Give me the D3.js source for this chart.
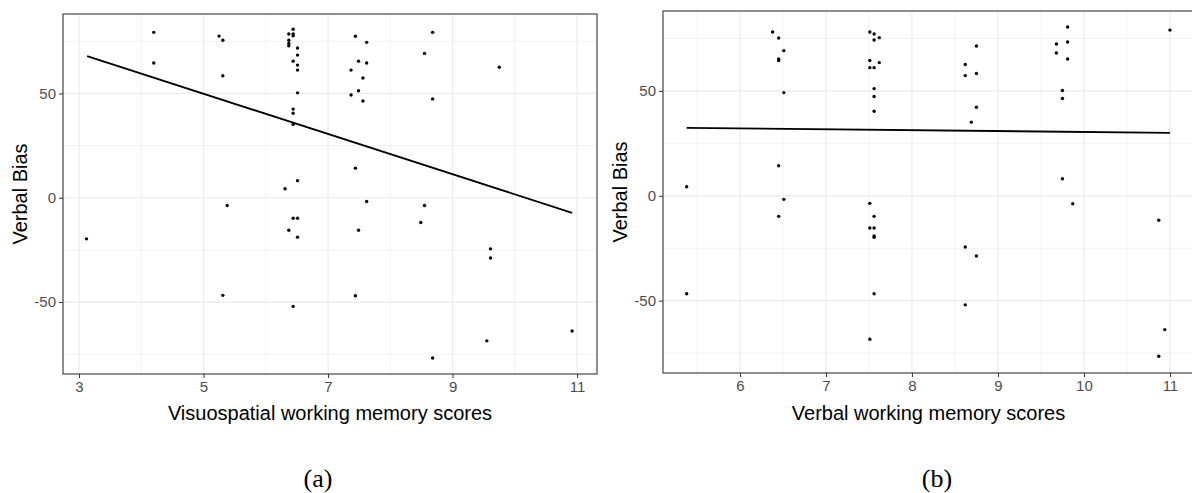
<!DOCTYPE html>
<html>
<head>
<meta charset="utf-8">
<title>Verbal Bias vs working memory</title>
<script src="https://d3js.org/d3.v7.min.js"></script>
<style>
  body { margin: 0; background: #fff; }
  svg { display: block; }
  .tick-label { font-family: "Liberation Sans", Arial, sans-serif; font-size: 15px; fill: #4d4d4d; }
  .axis-title { font-family: "Liberation Sans", Arial, sans-serif; font-size: 20px; fill: #000; }
  .caption { font-family: "Liberation Serif", "Times New Roman", serif; font-size: 26px; fill: #000; }
</style>
</head>
<body>
<div id="chart"></div>
<script>
// (a) visuospatial working memory vs verbal bias
var visuoX = [3.12, 4.2, 4.2, 5.25, 5.31, 5.31, 5.38, 5.31,
  6.37, 6.37, 6.37, 6.37, 6.44, 6.44, 6.44, 6.44, 6.51, 6.51, 6.51, 6.51, 6.51,
  6.44, 6.44, 6.44, 6.31, 6.51, 6.44, 6.51, 6.37, 6.51, 6.44,
  7.44, 7.62, 7.49, 7.62, 7.37, 7.56, 7.49, 7.37, 7.56, 7.44, 7.62, 7.49, 7.44,
  8.68, 8.55, 8.68, 8.55, 8.49, 8.68,
  9.75, 9.61, 9.61, 9.55, 10.92];
var visuoY = [-19.7, 79.3, 64.6, 77.5, 75.5, 58.5, -3.7, -46.8,
  78.5, 75.5, 74, 72.9, 80.8, 78.5, 77.7, 65.5, 71.8, 68.4, 63.6, 61.2, 50.3,
  42.5, 40.5, 35.2, 4.3, 8.2, -9.8, -9.8, -15.6, -18.9, -52.1,
  77.4, 74.5, 65.5, 64.6, 61.2, 57.4, 51.3, 49.3, 46.4, 14.2, -1.8, -15.6, -47,
  79.3, 69.2, 47.4, -3.7, -11.9, -76.8,
  62.6, -24.5, -28.9, -68.6, -63.9];
var visuoFitX = [3.13, 10.92];
var visuoFitY = [67.9, -7.2];
var visuoTicks = [3, 5, 7, 9, 11];
var visuoMinor = [4, 6, 8, 10];

// (b) verbal working memory vs verbal bias
var verbalX = [5.38, 5.38,
  6.38, 6.45, 6.51, 6.45, 6.45, 6.51, 6.45, 6.51, 6.45,
  7.51, 7.56, 7.56, 7.62, 7.51, 7.62, 7.51, 7.56, 7.56, 7.56, 7.56,
  7.51, 7.56, 7.51, 7.56, 7.56, 7.56, 7.56, 7.51,
  8.75, 8.62, 8.62, 8.75, 8.75, 8.69, 8.62, 8.75, 8.62,
  9.81, 9.68, 9.81, 9.68, 9.81, 9.75, 9.75, 9.75, 9.87,
  11.0, 10.87, 10.94, 10.87];
var verbalY = [4.3, -46.7,
  78.1, 75.2, 69.2, 65.2, 64.5, 49.2, 14.3, -1.7, -9.8,
  78.1, 77.1, 74.3, 75.4, 64.5, 63.5, 61.1, 61.1, 51.1, 47.3, 40.3,
  -3.6, -9.8, -15.4, -15.4, -19.2, -19.8, -46.7, -68.4,
  71.4, 62.6, 57.3, 58.3, 42.2, 35.1, -24.4, -28.7, -52,
  80.5, 72.4, 73.3, 68.1, 65.2, 50.2, 46.4, 8.1, -3.8,
  79, -11.7, -63.8, -76.5];
var verbalFitX = [5.38, 11.0];
var verbalFitY = [32.4, 30.0];
var verbalTicks = [6, 7, 8, 9, 10, 11];
var verbalMinor = [5.5, 6.5, 7.5, 8.5, 9.5, 10.5];

var biasTicks = [-50, 0, 50];
var biasMinor = [-75, -25, 25, 75];
var biasDomain = [-84.5, 88.1];

var W = 1192, H = 493;
var svg = d3.select("#chart").append("svg")
    .attr("width", W).attr("height", H);

// plain hyphen minus like the original, no decimals
var plain = function(d) { return String(d); };

function panel(p) {
  var x = d3.scaleLinear().domain(p.xDomain).range([p.left, p.right]);
  var y = d3.scaleLinear().domain(biasDomain).range([p.bottom, p.top]);
  var g = svg.append("g");

  // grid, minor first then major
  g.selectAll(".vminor").data(p.xMinor).enter().append("line")
    .attr("x1", d => x(d)).attr("x2", d => x(d))
    .attr("y1", p.top).attr("y2", p.bottom)
    .attr("stroke", "#f2f2f2").attr("stroke-width", 1);
  g.selectAll(".hminor").data(biasMinor).enter().append("line")
    .attr("x1", p.left).attr("x2", p.right)
    .attr("y1", d => y(d)).attr("y2", d => y(d))
    .attr("stroke", "#f2f2f2").attr("stroke-width", 1);
  g.selectAll(".vmajor").data(p.xTicks).enter().append("line")
    .attr("x1", d => x(d)).attr("x2", d => x(d))
    .attr("y1", p.top).attr("y2", p.bottom)
    .attr("stroke", "#ebebeb").attr("stroke-width", 1.2);
  g.selectAll(".hmajor").data(biasTicks).enter().append("line")
    .attr("x1", p.left).attr("x2", p.right)
    .attr("y1", d => y(d)).attr("y2", d => y(d))
    .attr("stroke", "#ebebeb").attr("stroke-width", 1.2);

  // points
  g.selectAll("circle").data(p.xs).enter().append("circle")
    .attr("cx", d => x(d))
    .attr("cy", (d, i) => y(p.ys[i]))
    .attr("r", 1.7)
    .attr("fill", "#000");

  // fitted line
  var fit = p.fitX.map((d, i) => [d, p.fitY[i]]);
  g.append("path")
    .attr("d", d3.line().x(d => x(d[0])).y(d => y(d[1]))(fit))
    .attr("fill", "none").attr("stroke", "#000").attr("stroke-width", 1.8);

  // border
  g.append("rect")
    .attr("x", p.left).attr("y", p.top)
    .attr("width", p.right - p.left).attr("height", p.bottom - p.top)
    .attr("fill", "none").attr("stroke", "#333").attr("stroke-width", 1.1);

  // axes
  var xAxis = g.append("g")
    .attr("transform", "translate(0," + p.bottom + ")")
    .call(d3.axisBottom(x).tickValues(p.xTicks).tickFormat(plain).tickSize(4).tickPadding(3));
  var yAxis = g.append("g")
    .attr("transform", "translate(" + p.left + ",0)")
    .call(d3.axisLeft(y).tickValues(biasTicks).tickFormat(plain).tickSize(4).tickPadding(3));
  [xAxis, yAxis].forEach(function(a) {
    a.select(".domain").remove();
    a.selectAll(".tick line").attr("stroke", "#333");
    a.selectAll(".tick text").attr("class", "tick-label").attr("fill", null);
    a.attr("font-size", null).attr("font-family", null);
  });

  // titles
  g.append("text").attr("class", "axis-title")
    .attr("x", (p.left + p.right) / 2).attr("y", 420)
    .attr("text-anchor", "middle").text(p.xTitle);
  g.append("text").attr("class", "axis-title")
    .attr("transform", "translate(" + (p.left - 36) + "," + ((p.top + p.bottom) / 2) + ") rotate(-90)")
    .attr("text-anchor", "middle").text("Verbal Bias");
  g.append("text").attr("class", "caption")
    .attr("x", p.captionX).attr("y", 487)
    .attr("text-anchor", "middle").text(p.caption);
}

panel({
  left: 63, right: 597, top: 14, bottom: 374,
  xDomain: [2.743, 11.32],
  xTicks: visuoTicks, xMinor: visuoMinor,
  xs: visuoX, ys: visuoY, fitX: visuoFitX, fitY: visuoFitY,
  xTitle: "Visuospatial working memory scores",
  caption: "(a)", captionX: 318
});

panel({
  left: 663, right: 1194, top: 11, bottom: 373,
  xDomain: [5.105, 11.28],
  xTicks: verbalTicks, xMinor: verbalMinor,
  xs: verbalX, ys: verbalY, fitX: verbalFitX, fitY: verbalFitY,
  xTitle: "Verbal working memory scores",
  caption: "(b)", captionX: 937
});
</script>
</body>
</html>
